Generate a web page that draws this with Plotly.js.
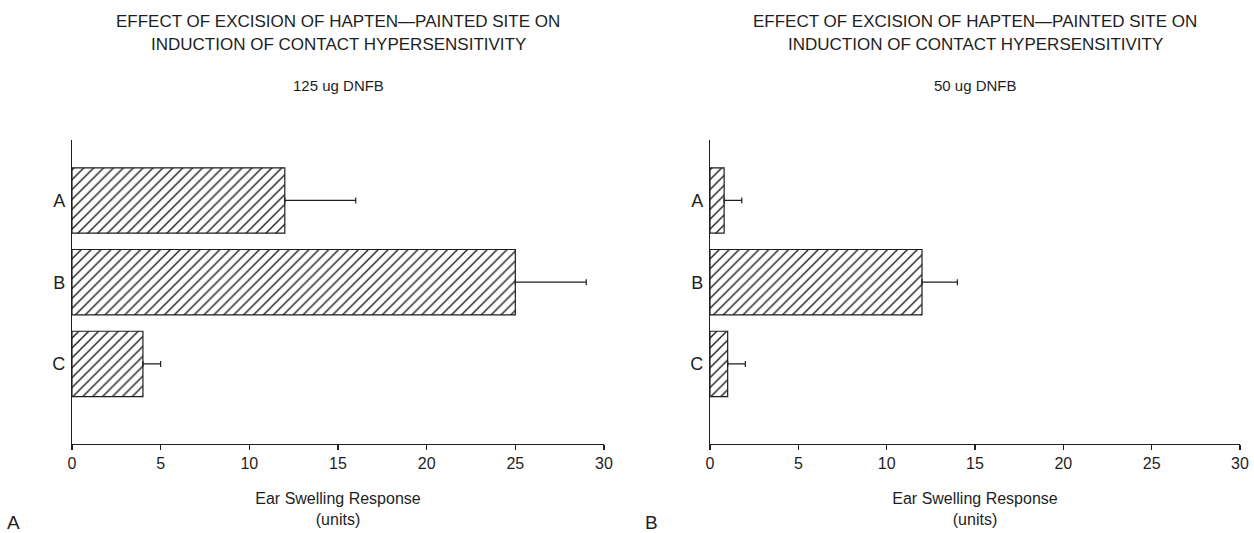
<!DOCTYPE html>
<html>
<head>
<meta charset="utf-8">
<script src="https://cdn.plot.ly/plotly-3.0.1.min.js"></script>
<style>html,body{margin:0;padding:0;background:#fff;}#chart{width:1254px;height:533px;}</style>
</head>
<body>
<div id="chart"></div>
<script>
// Data
const categories = ["A", "B", "C"];
const dose125Values = [12, 25, 4];
const dose125ErrPlus = [4, 4, 1];
const dose50Values = [0.8, 12, 1];
const dose50ErrPlus = [1, 2, 1];
const xTickVals = [0, 5, 10, 15, 20, 25, 30];
const titleLine1 = "EFFECT OF EXCISION OF HAPTEN\u2014PAINTED SITE ON";
const titleLine2 = "INDUCTION OF CONTACT HYPERSENSITIVITY";
const subtitles = ["125 ug DNFB", "50 ug DNFB"];
const panelLabels = ["A", "B"];

const W = 1254, H = 533;
const FONT = "Liberation Sans, Arial, sans-serif";
const INK = "#1e1e1e";
const px = v => v / W;
const py = v => 1 - v / H;

function barTrace(vals, errs, xa, ya) {
  return {
    type: "bar", orientation: "h",
    x: vals, y: categories,
    xaxis: xa, yaxis: ya,
    width: 0.8,
    marker: {
      color: "#ffffff",
      line: {color: INK, width: 1.2},
      pattern: {shape: "/", fgcolor: INK, bgcolor: "#ffffff", size: 7, solidity: 0.2}
    },
    error_x: {type: "data", symmetric: false, array: errs, arrayminus: [0,0,0],
              color: INK, thickness: 1.2, width: 3},
    showlegend: false, hoverinfo: "skip"
  };
}

const data = [
  barTrace(dose125Values, dose125ErrPlus, "x", "y"),
  barTrace(dose50Values, dose50ErrPlus, "x2", "y2")
];

function xAxis(domain, anchor) {
  return {
    domain: domain, anchor: anchor, range: [0, 30],
    tickvals: xTickVals, ticktext: xTickVals.map(String),
    ticks: "outside", ticklen: 5, tickwidth: 1.2, tickcolor: INK,
    showline: true, linecolor: INK, linewidth: 1.2,
    showgrid: false, zeroline: false,
    tickfont: {family: FONT, size: 16, color: INK},
    title: {text: "Ear Swelling Response<br>(units)", standoff: 21,
            font: {family: FONT, size: 16, color: INK}},
    fixedrange: true
  };
}
function xAxisInner(overlay, anchor) {
  return {
    overlaying: overlay, anchor: anchor, range: [0, 30],
    tickvals: xTickVals, ticks: "inside", ticklen: 5, tickwidth: 1.2, tickcolor: INK,
    showticklabels: false, showline: false, showgrid: false, zeroline: false,
    fixedrange: true
  };
}
function yAxis(domain, anchor) {
  return {
    domain: domain, anchor: anchor,
    type: "category", categoryorder: "array", categoryarray: categories,
    range: [2.98, -0.74],
    showline: true, linecolor: INK, linewidth: 1.2,
    ticks: "", showgrid: false, zeroline: false,
    tickfont: {family: FONT, size: 18, color: INK},
    ticklabelstandoff: 2,
    fixedrange: true
  };
}

const yDom = [py(444), py(140)];
const leftDom = [px(72), px(604)];
const rightDom = [px(710), px(1240)];

const annotations = [];
[[leftDom, 0], [rightDom, 1]].forEach(([dom, i]) => {
  const cx = (dom[0] + dom[1]) / 2;
  annotations.push({xref: "paper", yref: "paper", x: cx, y: py(21), xanchor: "center", yanchor: "middle",
    text: titleLine1, showarrow: false, font: {family: FONT, size: 17, color: INK}});
  annotations.push({xref: "paper", yref: "paper", x: cx, y: py(45), xanchor: "center", yanchor: "middle",
    text: titleLine2, showarrow: false, font: {family: FONT, size: 17, color: INK}});
  annotations.push({xref: "paper", yref: "paper", x: cx, y: py(85), xanchor: "center", yanchor: "middle",
    text: subtitles[i], showarrow: false, font: {family: FONT, size: 15, color: INK}});
});
annotations.push({xref: "paper", yref: "paper", x: px(13), y: py(522), xanchor: "center", yanchor: "middle",
  text: panelLabels[0], showarrow: false, font: {family: FONT, size: 19, color: INK}});
annotations.push({xref: "paper", yref: "paper", x: px(651), y: py(522), xanchor: "center", yanchor: "middle",
  text: panelLabels[1], showarrow: false, font: {family: FONT, size: 19, color: INK}});

const layout = {
  width: W, height: H,
  margin: {l: 0, r: 0, t: 0, b: 0},
  paper_bgcolor: "#fff", plot_bgcolor: "rgba(0,0,0,0)",
  xaxis: xAxis(leftDom, "y"),
  yaxis: yAxis(yDom, "x"),
  xaxis2: xAxis(rightDom, "y2"),
  yaxis2: yAxis(yDom, "x2"),
  xaxis3: xAxisInner("x", "y"),
  xaxis4: xAxisInner("x2", "y2"),
  annotations: annotations,
  bargap: 0.2
};

Plotly.newPlot("chart", data, layout, {displayModeBar: false, staticPlot: true});
</script>
</body>
</html>
